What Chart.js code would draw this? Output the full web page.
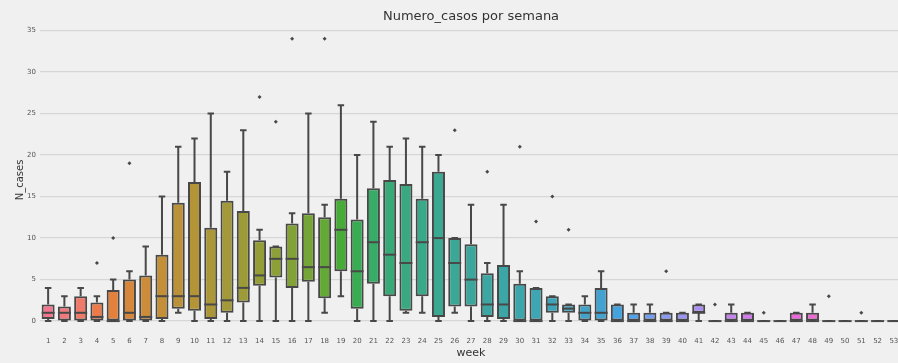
<!DOCTYPE html>
<html>
<head>
<meta charset="utf-8">
<script src="https://cdn.jsdelivr.net/npm/chart.js@4"></script>
<style>
  html, body { margin: 0; padding: 0; overflow: hidden; background: #f0f0f0; }
  #wrap { width: 906px; height: 363px; }
</style>
</head>
<body>
<div id="wrap"><canvas id="cases-chart" width="906" height="363"></canvas></div>
<script>
// weeks on the x axis
const weeks = ['1','2','3','4','5','6','7','8','9','10','11','12','13','14','15','16','17','18','19','20',
  '21','22','23','24','25','26','27','28','29','30','31','32','33','34','35','36','37','38','39','40',
  '41','42','43','44','45','46','47','48','49','50','51','52','53'];

// box statistics per week
const whiskerLow  = [0,0,0,0,0,0,0,0,1,0, 0,0,0,0,0,0,0,1,3,0, 0,0,1,1,0,1,0,0,0,0, 0,0,0,0,0,0,0,0,0,0, 0,0,0,0,0,0,0,0,0,0, 0,0,0];
const q1          = [0.25,0,0,0,0,0,0,0.25,1.5,1.25, 0.25,1,2.25,4.25,5.25,4,4.75,2.75,6,1.5, 4.5,3,1.25,3,0.5,1.75,1.75,0.5,0.25,0, 0,1,1,0,0,0,0,0,0,0, 1,0,0,0,0,0,0,0,0,0, 0,0,0];
const median      = [1,1,1,0.5,0,1,0.5,3,3,3, 2,2.5,4,5.5,7.5,7.5,6.5,6.5,11,6, 9.5,8,7,9.5,10,7,5,2,2,0, 0,2,1.5,1,1,0,0,0,0,0, 1,0,0,0,0,0,0,0,0,0, 0,0,0];
const q3          = [2,1.75,3,2.25,3.75,5,5.5,8,14.25,16.75, 11.25,14.5,13.25,9.75,9,11.75,13,12.5,14.75,12.25, 16,17,16.5,14.75,18,10,9.25,5.75,6.75,4.5, 4,3,2,2,4,2,1,1,1,1, 2,0,1,1,0,0,1,1,0,0, 0,0,0];
const whiskerHigh = [4,3,4,3,5,6,9,15,21,22, 25,18,23,11,9,13,25,14,26,20, 24,21,22,21,20,10,14,7,14,6, 4,3,2,3,6,2,2,2,1,1, 2,0,2,1,0,0,1,2,0,0, 0,0,0];

// outliers
const outlierWeeks  = ['4','5','6','14','15','16','18','26','28','30','31','32','33','39','42','45','49','51'];
const outlierValues = [7,10,19,27,24,34,34,23,18,21,12,15,11,6,2,1,3,1];

const yTicks = [0,5,10,15,20,25,30,35];

// seaborn style husl palette, lightly desaturated
const M = [[3.240969941904521,-1.537383177570093,-0.498610760293],
           [-0.96924363628087,1.87596750150772,0.041555057407175],
           [0.055630079696993,-0.20397695888897,1.056971514242878]];

function getBounds(L) {
  const out = [];
  const sub1 = Math.pow(L + 16, 3) / 1560896;
  const sub2 = sub1 > 0.0088564516 ? sub1 : L / 903.2962962;
  M.forEach(([m1, m2, m3]) => {
    [0, 1].forEach(t => {
      const top1 = (284517 * m1 - 94839 * m3) * sub2;
      const top2 = (838422 * m3 + 769860 * m2 + 731718 * m1) * L * sub2 - 769860 * t * L;
      const bottom = (632260 * m3 - 126452 * m2) * sub2 + 126452 * t;
      out.push([top1 / bottom, top2 / bottom]);
    });
  });
  return out;
}

function huslToRgb(H, S, L) {
  const hr = H / 180 * Math.PI;
  let maxC = Infinity;
  getBounds(L).forEach(([s, i]) => {
    const len = i / (Math.sin(hr) - s * Math.cos(hr));
    if (len >= 0) maxC = Math.min(maxC, len);
  });
  const C = maxC / 100 * S;
  const U = Math.cos(hr) * C, V = Math.sin(hr) * C;
  const varU = U / (13 * L) + 0.19783000664283;
  const varV = V / (13 * L) + 0.46831999493879;
  const Y = L <= 8 ? L / 903.2962962 : Math.pow((L + 16) / 116, 3);
  const X = -(9 * Y * varU) / ((varU - 4) * varV - varU * varV);
  const Z = (9 * Y - 15 * varV * Y - varV * X) / (3 * varV);
  return M.map(r => {
    const c = r[0] * X + r[1] * Y + r[2] * Z;
    const v = c <= 0.0031308 ? 12.92 * c : 1.055 * Math.pow(c, 1 / 2.4) - 0.055;
    return Math.min(1, Math.max(0, v));
  });
}

function rgbToHls([r, g, b]) {
  const mx = Math.max(r, g, b), mn = Math.min(r, g, b);
  const l = (mx + mn) / 2;
  if (mx === mn) return [0, l, 0];
  const d = mx - mn;
  const s = l <= 0.5 ? d / (mx + mn) : d / (2 - mx - mn);
  const rc = (mx - r) / d, gc = (mx - g) / d, bc = (mx - b) / d;
  let h;
  if (r === mx) h = bc - gc;
  else if (g === mx) h = 2 + rc - bc;
  else h = 4 + gc - rc;
  h = ((h / 6) % 1 + 1) % 1;
  return [h, l, s];
}

function hlsToRgb([h, l, s]) {
  if (s === 0) return [l, l, l];
  const m2 = l <= 0.5 ? l * (1 + s) : l + s - l * s;
  const m1 = 2 * l - m2;
  const v = hue => {
    hue = ((hue % 1) + 1) % 1;
    if (hue < 1 / 6) return m1 + (m2 - m1) * hue * 6;
    if (hue < 0.5) return m2;
    if (hue < 2 / 3) return m1 + (m2 - m1) * (2 / 3 - hue) * 6;
    return m1;
  };
  return [v(h + 1 / 3), v(h), v(h - 1 / 3)];
}

const rgbColors = weeks.map((w, i) => {
  const hue = ((i / weeks.length + 0.01) % 1) * 359;
  const hls = rgbToHls(huslToRgb(hue, 90 * 0.99, 65 * 0.99));
  hls[2] *= 0.9;
  return hlsToRgb(hls);
});
const toCss = c => `rgb(${c.map(v => Math.round(v * 255)).join(',')})`;
const boxColors = rgbColors.map(toCss);
const gray = '#484848';

// whiskers, caps and medians drawn with the chart's scales
const boxLines = {
  id: 'boxLines',
  beforeDatasetsDraw(chart) {
    const {ctx, scales: {x, y}} = chart;
    const capHalf = (x.getPixelForValue(1) - x.getPixelForValue(0)) * 0.2;
    ctx.save();
    ctx.strokeStyle = gray;
    ctx.lineWidth = 2;
    weeks.forEach((w, i) => {
      const px = x.getPixelForValue(i);
      ctx.beginPath();
      ctx.moveTo(px, y.getPixelForValue(whiskerLow[i]));
      ctx.lineTo(px, y.getPixelForValue(q1[i]));
      ctx.moveTo(px, y.getPixelForValue(q3[i]));
      ctx.lineTo(px, y.getPixelForValue(whiskerHigh[i]));
      [whiskerLow[i], whiskerHigh[i]].forEach(v => {
        ctx.moveTo(px - capHalf, y.getPixelForValue(v));
        ctx.lineTo(px + capHalf, y.getPixelForValue(v));
      });
      ctx.stroke();
    });
    ctx.restore();
  },
  afterDatasetsDraw(chart) {
    const {ctx, scales: {x, y}} = chart;
    const half = (x.getPixelForValue(1) - x.getPixelForValue(0)) * 0.4;
    ctx.save();
    ctx.strokeStyle = gray;
    ctx.lineWidth = 2;
    weeks.forEach((w, i) => {
      const px = x.getPixelForValue(i);
      const py = y.getPixelForValue(median[i]);
      ctx.beginPath();
      ctx.moveTo(px - half, py);
      ctx.lineTo(px + half, py);
      ctx.stroke();
    });
    ctx.restore();
  }
};

const font = 'DejaVu Sans';

new Chart(document.getElementById('cases-chart'), {
  type: 'bar',
  data: {
    labels: weeks,
    datasets: [
      {
        type: 'bar',
        data: weeks.map((w, i) => [q1[i], q3[i]]),
        backgroundColor: boxColors,
        borderColor: gray,
        borderWidth: 2,
        borderSkipped: false,
        barPercentage: 0.8,
        categoryPercentage: 1,
        order: 2
      },
      {
        type: 'line',
        data: outlierWeeks.map((w, i) => ({x: w, y: outlierValues[i]})),
        showLine: false,
        pointStyle: 'rectRot',
        pointRadius: 2,
        pointBackgroundColor: gray,
        pointBorderColor: gray,
        pointBorderWidth: 0,
        order: 1
      }
    ]
  },
  options: {
    responsive: false,
    devicePixelRatio: 1,
    animation: false,
    layout: {padding: 0},
    plugins: {
      legend: {display: false},
      tooltip: {enabled: false},
      title: {
        display: true,
        text: 'Numero_casos por semana',
        fullSize: false,
        color: '#333',
        font: {family: font, size: 13, weight: 'normal'},
        padding: {top: 8.4, bottom: 0.74}
      }
    },
    scales: {
      x: {
        grid: {display: false, drawTicks: false},
        border: {display: false},
        ticks: {
          autoSkip: false, maxRotation: 0, padding: 2,
          color: '#555', font: {family: font, size: 7}
        },
        title: {
          display: true, text: 'week', color: '#333',
          font: {family: font, size: 11}, padding: {top: 0, bottom: 3}
        },
        afterFit: s => { s.height = 27.8; }
      },
      y: {
        min: -1.7,
        max: 35.7,
        afterBuildTicks: s => { s.ticks = yTicks.map(v => ({value: v})); },
        grid: {color: '#d6d6d6', lineWidth: 1.3, drawTicks: false},
        border: {display: false},
        ticks: {padding: 4, color: '#555', font: {family: font, size: 7}},
        title: {
          display: true, text: 'N_cases', color: '#333',
          font: {family: font, size: 10}, padding: {top: 14, bottom: 0}
        },
        afterFit: s => { s.width = 40; }
      }
    }
  },
  plugins: [boxLines]
});
</script>
</body>
</html>
